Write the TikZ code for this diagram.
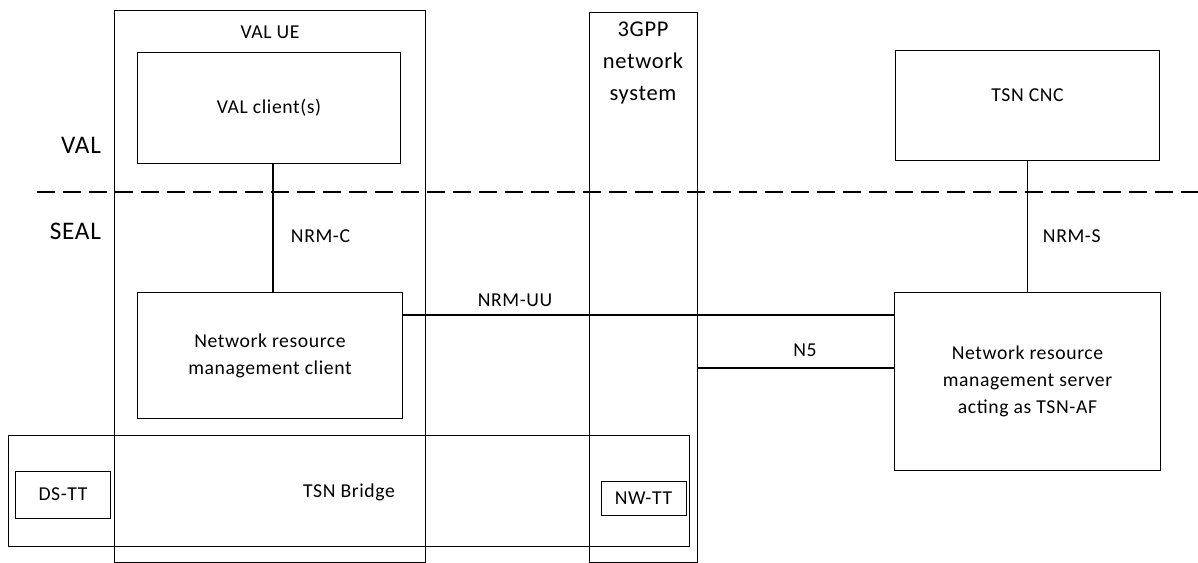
\documentclass[tikz,border=0pt]{standalone}
\usepackage{fontspec}
\setmainfont[LetterSpace=3]{Carlito}
\begin{document}
\begin{tikzpicture}[x=0.025cm, y=-0.025cm,
  box/.style={draw, line width=0.7pt, inner sep=0pt, align=center, font=\fontsize{14}{19}\selectfont},
  lbl/.style={font=\fontsize{14}{17}\selectfont},
  layer/.style={font=\fontsize{18}{21}\selectfont, anchor=east},
  link/.style={line width=1.4pt}]
\useasboundingbox (0,0) rectangle (1198,563);

% outer boxes
\node[box, minimum width=7.75cm, minimum height=13.775cm] (ue) at (270,286.5) {};
\node[box, minimum width=2.7cm, minimum height=13.725cm] (gpp) at (643,287.5) {};
\node[box, minimum width=17cm, minimum height=2.75cm] (bridge) at (349,491) {};

\node[lbl] (uelabel) at (270,32) {VAL UE};
\node[font=\fontsize{16}{22.5}\selectfont, align=center] (gpplabel) at (643,63) {3GPP\\network\\system};
\node[lbl] (bridgelabel) at (349,492) {TSN Bridge};

% inner boxes
\node[box, minimum width=6.55cm, minimum height=2.75cm] (valclient) at (269,108) {VAL client(s)};
\node[box, minimum width=6.6cm, minimum height=3.125cm] (nrmc) at (270,355.5) {Network resource\\management client};
\node[box, minimum width=2.35cm, minimum height=1.175cm] (dstt) at (63,494.5) {DS-TT};
\node[box, minimum width=2.125cm, minimum height=0.85cm] (nwtt) at (643.5,498) {NW-TT};
\node[box, minimum width=6.575cm, minimum height=2.725cm, text depth=0.5cm] (cnc) at (1027.5,105.5) {TSN CNC};
\node[box, minimum width=6.625cm, minimum height=4.425cm] (nrms) at (1027.5,381.5) {Network resource\\management server\\acting as TSN-AF};

% layers
\draw[line width=0.9pt, dash pattern=on 0.45cm off 0.2cm] (37,192) -- (1198,192);
\node[layer] (val) at (106,145) {VAL};
\node[layer] (seal) at (106,231) {SEAL};

% reference points
\draw[link] ([xshift=0.09cm]valclient.south) -- ([xshift=0.09cm]valclient.south |- nrmc.north);
\draw[link] (cnc) -- (nrms);
\coordinate (uu) at ([yshift=1.01cm]nrmc.east);
\draw[link] (uu) -- (uu -| nrms.west);
\coordinate (nfive) at ([yshift=0.34cm]nrms.west);
\draw[link] (nfive) -- (nfive -| gpp.east);

\node[lbl, anchor=west] (nrmclabel) at (286,236) {NRM-C};
\node[lbl, anchor=west] (nrmslabel) at (1038,236) {NRM-S};
\node[lbl] (uulabel) at (515,300) {NRM-UU};
\node[lbl] (n5label) at (805,350) {N5};
\end{tikzpicture}
\end{document}
